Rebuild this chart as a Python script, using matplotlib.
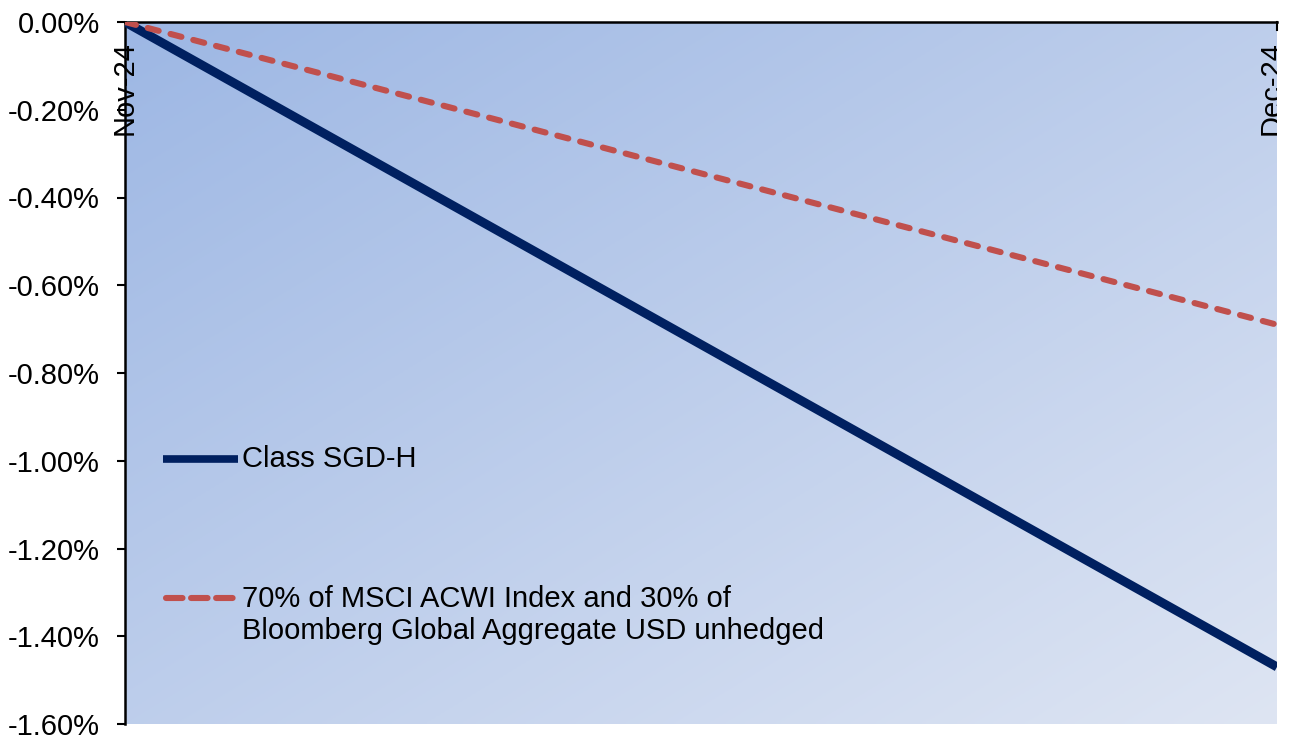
import numpy as np
import matplotlib
matplotlib.use("Agg")
import matplotlib.pyplot as plt
from matplotlib.ticker import FuncFormatter
from matplotlib.lines import Line2D

plt.rcParams['font.family'] = ['Liberation Sans', 'DejaVu Sans']

dates = ["Nov-24", "Dec-24"]
class_sgd_h = [0.0, -1.47]
benchmark = [0.0, -0.69]
label_fund = "Class SGD-H"
label_bench = "70% of MSCI ACWI Index and 30% of\nBloomberg Global Aggregate USD unhedged"
yticks = [0.0, -0.2, -0.4, -0.6, -0.8, -1.0, -1.2, -1.4, -1.6]

FS = 21
fig = plt.figure(figsize=(12.97, 7.39), dpi=100)
ax = fig.add_axes([125/1297, 1-724/739, (1277-125)/1297, (724-22)/739])

# gradient background (dark top-left -> light bottom-right)
n = 256
gx, gy = np.meshgrid(np.linspace(0, 1, n), np.linspace(0, 1, n))
t = (gx + gy) / 2.0
c0 = np.array([157, 183, 228]) / 255.0
c1 = np.array([222, 229, 243]) / 255.0
img = c0[None, None, :] * (1 - t[..., None]) + c1[None, None, :] * t[..., None]
ax.imshow(img, extent=[0, 1, 0, 1], origin='upper', transform=ax.transAxes,
          aspect='auto', zorder=0)

x = np.arange(len(dates))
ax.plot(x, class_sgd_h, color='#002060', lw=6.5, solid_capstyle='butt', zorder=3)
ax.plot(x, benchmark, color='#C0504D', lw=4.4, dashes=(1.85, 2.0),
        dash_capstyle='round', zorder=3)

ax.set_xlim(0, 1)
ax.set_ylim(-1.6, 0)
ax.set_yticks(yticks)
ax.yaxis.set_major_formatter(FuncFormatter(lambda v, p: f"{v:.2f}%"))
ax.tick_params(axis='y', labelsize=FS, length=6, width=1.5, direction='out', pad=12)
ax.set_xticks([])
for s in ['right', 'bottom']:
    ax.spines[s].set_visible(False)
ax.spines['left'].set_linewidth(1.8)
ax.spines['top'].set_linewidth(1.8)

# category labels inside at top
ax.text(x[0], 0.973, dates[0], transform=ax.get_xaxis_transform(), rotation=90,
        ha='center', va='top', fontsize=FS, zorder=4)
ax.text(x[1] - 0.005, 0.973, dates[1], transform=ax.get_xaxis_transform(), rotation=90,
        ha='center', va='top', fontsize=FS, zorder=4, clip_on=True)
ax.plot([1, 1], [1, 0.988], transform=ax.transAxes, color='black', lw=1.5, clip_on=False)

# legend (drawn manually to match layout)
hx = [(166-125)/1152, (235-125)/1152]
tx = (242-125)/1152
ax.add_line(Line2D([(163-125)/1152, (238-125)/1152], [(724-459)/702]*2,
                   transform=ax.transAxes, color='#002060', lw=5.5, solid_capstyle='butt'))
ax.text(tx, (724-459)/702, label_fund, transform=ax.transAxes, fontsize=FS,
        va='center', ha='left')
ax.add_line(Line2D(hx, [(724-598)/702]*2, transform=ax.transAxes,
                   color='#C0504D', lw=4.4, dashes=(2.7, 1.4), dash_capstyle='round'))
ax.text(tx, (724-615)/702, label_bench, transform=ax.transAxes,
        fontsize=FS, va='center', ha='left', linespacing=1.15)

fig.savefig("out.png", dpi=100)
